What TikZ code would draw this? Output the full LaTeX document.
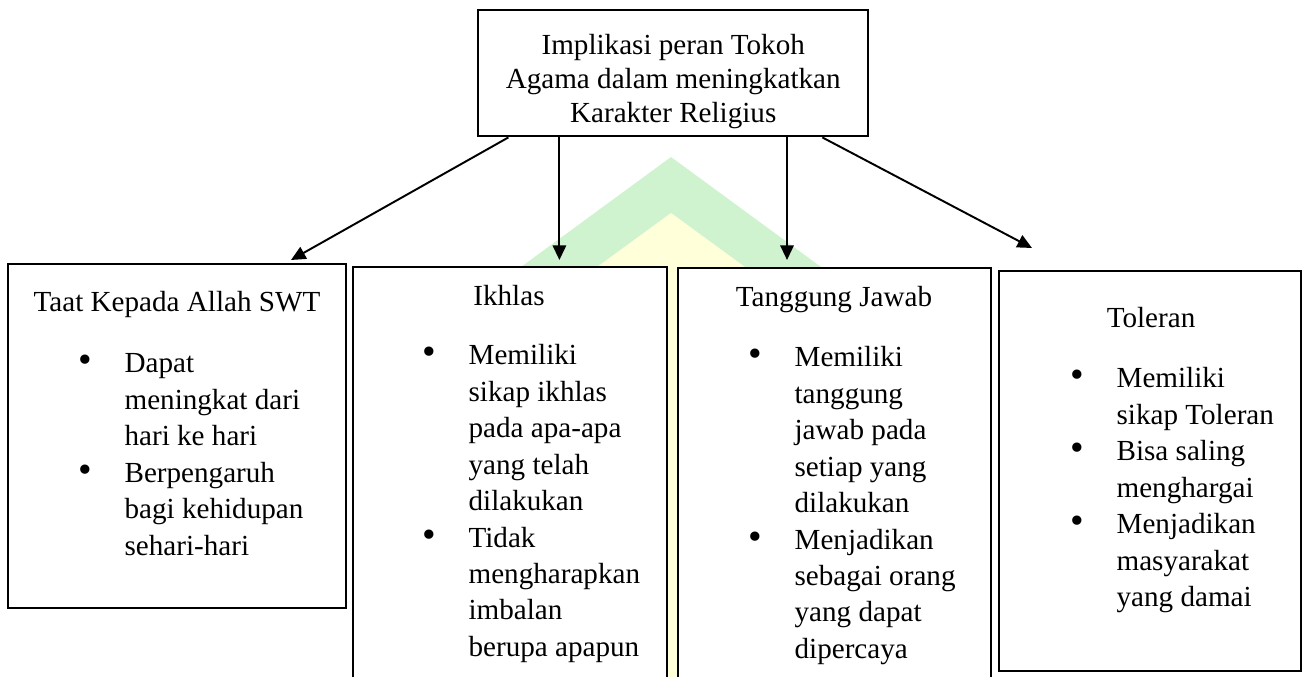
\documentclass[tikz,border=0pt]{standalone}
\usepackage{fontspec}
\setmainfont{Liberation Serif}
\usetikzlibrary{calc,arrows.meta}
\definecolor{wmGreen}{RGB}{207,243,207}
\definecolor{wmYellow}{RGB}{255,255,217}
\newcommand{\titik}{{\fontsize{16}{15}\selectfont\textbullet}}
\newcommand{\butir}[1]{\begin{tabular}[t]{@{}p{19pt}@{}l@{}}#1\end{tabular}}

\begin{document}
\begin{tikzpicture}[x=0.412pt, y=-0.412pt,
    kotak/.style 2 args={draw, line width=1pt, fill=white, anchor=north west, inner sep=0pt,
        minimum width=#1*0.412pt, minimum height=#2*0.412pt},
    judul/.style={anchor=base, inner sep=0pt, font=\fontsize{12}{15}\selectfont},
    daftar/.style={anchor=base west, inner sep=0pt, font=\fontsize{12}{15}\selectfont},
    panah/.style={line width=0.8pt, -{Triangle[length=6pt,width=5.5pt]}}]
    \useasboundingbox (0,0) rectangle (1302,677);
    \clip (0,0) rectangle (1302,677);

    % watermark
    \fill[wmGreen] (671,157) -- (480,297) -- (862,297) -- cycle;
    \fill[wmYellow] (671,213) -- (560,294) -- (560,677) -- (782,677) -- (782,294) -- cycle;

    \node[kotak={390}{126}] (imp) at (477,9) {};
    \node[kotak={338}{344}] (taat) at (7,263) {};
    \node[kotak={314}{450}] (ikhlas) at (352,266) {};
    \node[kotak={313}{450}] (jawab) at (677,267) {};
    \node[kotak={302}{400}] (toleran) at (998,270) {};

    \node[align=center, inner sep=0pt, font=\fontsize{12}{14}\selectfont] (impteks) at ($(imp.center)+(0,8)$)
        {Implikasi peran Tokoh\\Agama dalam meningkatkan\\Karakter Religius};
    \foreach \nm/\xx/\yy/\lab in {jtaat/177/312/Taat Kepada Allah SWT, jikhlas/509/306/Ikhlas,
        jjawab/834/307/Tanggung Jawab, jtoleran/1151/328/Toleran} {
        \node[judul] (\nm) at (\xx,\yy) {\lab};
    }

    \node[daftar] (ltaat) at (78,373) {\butir{\titik & Dapat\\ & meningkat dari\\ & hari ke hari\\
        \titik & Berpengaruh\\ & bagi kehidupan\\ & sehari-hari}};
    \node[daftar] (likhlas) at (422,365) {\butir{\titik & Memiliki\\ & sikap ikhlas\\ & pada apa-apa\\
        & yang telah\\ & dilakukan\\ \titik & Tidak\\ & mengharapkan\\ & imbalan\\ & berupa apapun}};
    \node[daftar] (ljawab) at (748,367) {\butir{\titik & Memiliki\\ & tanggung\\ & jawab pada\\
        & setiap yang\\ & dilakukan\\ \titik & Menjadikan\\ & sebagai orang\\ & yang dapat\\ & dipercaya}};
    \node[daftar] (ltoleran) at (1070,388) {\butir{\titik & Memiliki\\ & sikap Toleran\\
        \titik & Bisa saling\\ & menghargai\\ \titik & Menjadikan\\ & masyarakat\\ & yang damai}};

    \foreach \f/\nm in {0.08/A, 0.21/B, 0.79/C, 0.88/D} {
        \coordinate (awal\nm) at ($(imp.south west)!\f!(imp.south east)$);
    }
    \coordinate (ujungA) at (291,260);
    \coordinate (ujungB) at (awalB |- 0,260);
    \coordinate (ujungC) at (awalC |- 0,260);
    \coordinate (ujungD) at (1032,248);
    \foreach \nm in {A,B,C,D} {
        \draw[panah] (awal\nm) -- (ujung\nm);
    }
\end{tikzpicture}
\end{document}
